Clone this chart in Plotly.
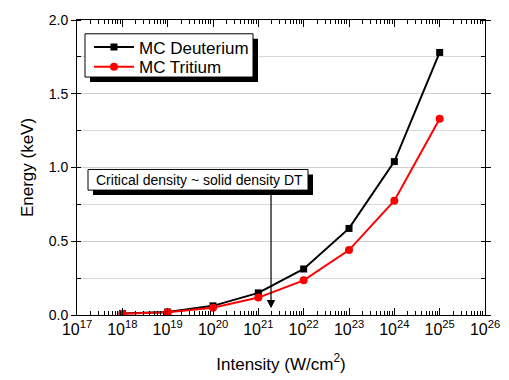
import plotly.graph_objects as go

intensity_exp = [18, 19, 20, 21, 22, 23, 24, 25]
deuterium = [0.01, 0.02, 0.062, 0.15, 0.312, 0.587, 1.04, 1.78]
tritium = [0.008, 0.018, 0.049, 0.118, 0.235, 0.44, 0.775, 1.33]
x_tick_exp = list(range(17, 27))
y_ticks = [0.0, 0.5, 1.0, 1.5, 2.0]
legend_names = ["MC Deuterium", "MC Tritium"]
note_text = "Critical density ~ solid density DT"
note_x_exp = 21.28

xs = [10.0 ** e for e in intensity_exp]
FONT = "Liberation Sans, Arial, sans-serif"

L, R, T, B = 77, 485, 15, 315
W, H = R - L, B - T

fig = go.Figure()
fig.add_trace(go.Scatter(x=xs, y=deuterium, name=legend_names[0], mode="lines+markers",
                         line=dict(color="black", width=2), legend="legend",
                         marker=dict(symbol="square", size=7, color="black")))
fig.add_trace(go.Scatter(x=xs, y=tritium, name=legend_names[1], mode="lines+markers",
                         line=dict(color="red", width=2), legend="legend2",
                         marker=dict(symbol="circle", size=8, color="red")))


def px2paper(px, py):
    return (px - L) / W, (B - py) / H


def box_with_shadow(x0, y0, x1, y1, off=5):
    a0, b0 = px2paper(x0 + off, y0 + off)
    a1, b1 = px2paper(x1 + off, y1 + off)
    fig.add_shape(type="rect", xref="paper", yref="paper", x0=a0, x1=a1, y0=b1, y1=b0,
                  fillcolor="black", line=dict(width=0), layer="above")
    a0, b0 = px2paper(x0, y0)
    a1, b1 = px2paper(x1, y1)
    fig.add_shape(type="rect", xref="paper", yref="paper", x0=a0, x1=a1, y0=b1, y1=b0,
                  fillcolor="white", line=dict(color="black", width=1), layer="above")


# legend box with shadow
box_with_shadow(85, 29, 253, 73)
# note box with shadow
box_with_shadow(88, 167, 308, 188)

ncx, ncy = px2paper(199, 177.5)
fig.add_annotation(xref="paper", yref="paper", x=ncx, y=ncy, xanchor="center", yanchor="middle",
                   text=note_text, showarrow=False, font=dict(family=FONT, size=14, color="black"))

# arrow
fig.add_annotation(x=note_x_exp, y=0.045, ax=note_x_exp, ay=0.845, xref="x", yref="y",
                   axref="x", ayref="y", text="", showarrow=True, arrowhead=2,
                   arrowsize=1.4, arrowwidth=1.2, arrowcolor="black")

lg1x, lg1y = px2paper(89, 43)
lg2x, lg2y = px2paper(89, 63)
legend_style = dict(xanchor="left", yanchor="middle", bgcolor="rgba(0,0,0,0)",
                    borderwidth=0, font=dict(size=17), itemwidth=40)
fig.update_layout(
    width=509, height=380,
    margin=dict(l=L, r=509 - R, t=T, b=380 - B),
    paper_bgcolor="white", plot_bgcolor="white",
    font=dict(family=FONT, size=15, color="black"),
    showlegend=True,
    legend=dict(x=lg1x, y=lg1y, **legend_style),
    legend2=dict(x=lg2x, y=lg2y, **legend_style),
)
fig.update_xaxes(type="log", range=[17, 26], automargin=False,
                 tickvals=[10.0 ** e for e in x_tick_exp],
                 ticktext=[f"10<sup>{e}</sup>" for e in x_tick_exp],
                 ticks="inside", ticklen=7, tickwidth=1, tickcolor="black",
                 minor=dict(ticks="inside", ticklen=4, dtick="D1", tickcolor="black", showgrid=False),
                 showline=True, linecolor="black", linewidth=1, mirror="ticks",
                 showgrid=False, zeroline=False,
                 title=dict(text="Intensity (W/cm<sup>2</sup>)", font=dict(size=17), standoff=20),
                 tickfont=dict(size=16))
fig.update_yaxes(range=[0, 2.0], tickvals=y_ticks, ticktext=[f"{v:.1f}" for v in y_ticks],
                 ticks="outside", ticklen=5, tickcolor="black",
                 minor=dict(dtick=0.25, ticks="inside", ticklen=4, tickcolor="black",
                            showgrid=True, gridcolor="#d8d8d8", gridwidth=1),
                 showline=True, linecolor="black", linewidth=1, mirror="ticks",
                 showgrid=True, gridcolor="#d0d0d0", gridwidth=1, zeroline=False,
                 title=dict(text="Energy (keV)", font=dict(size=17), standoff=10),
                 tickfont=dict(size=14))

fig.write_html("out.html")
